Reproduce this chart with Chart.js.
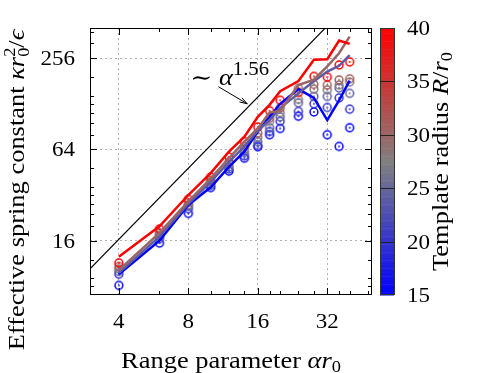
<!DOCTYPE html>
<html>
<head>
<meta charset="utf-8">
<script src="https://cdn.jsdelivr.net/npm/chart.js@4"></script>
<style>
html,body{margin:0;padding:0;background:#fff}
</style>
</head>
<body>
<canvas id="myChart" width="498" height="373"></canvas>
<script>
// range parameter alpha*r0 (x values of every series)
const rangeParam=[4,6,8,10,12,14,16,18,20,24,28,32,36,40];

// solid lines, one per template radius
const fitR40=[12.5,19.9,32,44.6,61.8,77.7,105,126,155,181,250,252,335,318];
const fitR30=[10.2,18,29,41,56,72,88,112,115,170,185,226,276,355];
const fitR24=[9.8,17,28,39,53,67,85,100,120,150,180,209,228,268];
const fitR15=[9.6,16,27.5,36,49,62,84,105,128,160,140,100,135,182];

// open circles, one per template radius
const simR40=[11.4,19.1,30,42,57,72,90,115,135,152,194,192,231,242];
const simR31=[10.8,18,28.5,40,53,67,82,103,120,162,172,170,184,187];
const simR28=[10.4,17.5,27.5,39,51,64,77,98,112,137,160,158,170,178];
const simR24=[10.0,17,27,38,49,61,72,89,105,130,143,143,163,150];
const simR20=[9.6,16.5,26,37,47.5,58,68,84,98,114,128,121,140,118];
const simR15=[8.1,15.4,24.2,35.8,46,56,66.6,80,88,106,113,80,67,89];

// ~ alpha^1.56 guide
const guideX=[3,34];
const guideY=[10.4,459];

// ticks
const xMajor=[4,8,16,32];
const xMinor=[6,10,12,14,18,20,24,28,36,40,48];
const yMajor=[16,64,256];
const yMinor=[8,9,12,20,24,28,32,36,48,80,96,112,128,144,192,320,384];
const cbTicks=[15,20,25,30,35,40];

const FONT='"Liberation Serif", "DejaVu Serif", serif';
const SX=1.15;

function rcolor(R){
	let t=(R-15)/25;
	t=Math.max(0,Math.min(1,t));
	let r,g,b;
	if(t<0.5){
		const s=t*2;
		r=g=Math.round(128*s);
		b=Math.round(255-127*s);
	}else{
		const s=(t-0.5)*2;
		r=Math.round(128+127*s);
		g=b=Math.round(128*(1-s));
	}
	return "rgb("+r+","+g+","+b+")";
}

function marker(color){
	const c=document.createElement("canvas");
	c.width=c.height=12;
	const x=c.getContext("2d");
	x.strokeStyle=color;
	x.lineWidth=1.5;
	x.beginPath();
	x.arc(6,6,3.9,0,2*Math.PI);
	x.stroke();
	x.fillStyle=color;
	x.beginPath();
	x.arc(6,6,0.9,0,2*Math.PI);
	x.fill();
	return c;
}

function pts(ys){
	return ys.map((v,i)=>({x:rangeParam[i],y:v}));
}

// draw text made of runs (italic / sub / sup), stretched a bit like the TeX font
function rich(ctx,runs,x,y,align,rot){
	ctx.save();
	ctx.translate(x,y);
	if(rot) ctx.rotate(rot);
	ctx.scale(SX,1);
	ctx.fillStyle="#000";
	ctx.textBaseline="alphabetic";
	ctx.textAlign="left";
	let cursor=0,prev=0;
	const pos=[];
	runs.forEach(r=>{
		ctx.font=(r.it?"italic ":"")+(r.sz||23)+"px "+FONT;
		const w=ctx.measureText(r.t).width;
		const start=r.stack?prev:cursor;
		pos.push(start);
		prev=start;
		cursor=Math.max(cursor,start+w);
	});
	let x0=0;
	if(align==="center") x0=-cursor/2;
	if(align==="right") x0=-cursor;
	runs.forEach((r,i)=>{
		ctx.font=(r.it?"italic ":"")+(r.sz||23)+"px "+FONT;
		ctx.fillText(r.t,x0+pos[i],r.dy||0);
	});
	ctx.restore();
}

const decor={
	id:"decor",
	afterDraw(chart){
		const {ctx,chartArea:a,scales}=chart;
		const xs=scales.x, ys=scales.y, cb=scales.cb;
		ctx.save();
		ctx.strokeStyle="#000";
		ctx.lineWidth=1;
		ctx.strokeRect(a.left+0.5,a.top+0.5,a.right-a.left-1,a.bottom-a.top-1);
		// tick marks, inside, all four sides
		ctx.beginPath();
		xMajor.concat(xMinor).forEach(v=>{
			const p=Math.round(xs.getPixelForValue(v))+0.5;
			if(p<a.left||p>a.right) return;
			const L=xMajor.includes(v)?7:4;
			ctx.moveTo(p,a.bottom);ctx.lineTo(p,a.bottom-L);
			ctx.moveTo(p,a.top);ctx.lineTo(p,a.top+L);
		});
		yMajor.concat(yMinor).forEach(v=>{
			const p=Math.round(ys.getPixelForValue(v))+0.5;
			if(p<a.top||p>a.bottom) return;
			const L=yMajor.includes(v)?7:4;
			ctx.moveTo(a.left,p);ctx.lineTo(a.left+L,p);
			ctx.moveTo(a.right,p);ctx.lineTo(a.right-L,p);
		});
		ctx.stroke();

		// tick labels
		xMajor.forEach(v=>rich(ctx,[{t:String(v),sz:20}],xs.getPixelForValue(v),328,"center"));
		yMajor.forEach(v=>rich(ctx,[{t:String(v),sz:20}],75,ys.getPixelForValue(v)+7,"right"));

		// colour bar
		const cl=cb.left+8, cw=14;
		for(let v=15;v<40;v+=0.25){
			const y1=cb.getPixelForValue(v+0.25), y2=cb.getPixelForValue(v);
			ctx.fillStyle=rcolor(v+0.125);
			ctx.fillRect(cl,y1,cw,y2-y1+0.5);
		}
		ctx.strokeStyle="#333";
		ctx.strokeRect(cl+0.5,cb.top+0.5,cw,cb.bottom-cb.top-1);
		ctx.beginPath();
		cbTicks.forEach(v=>{
			if(v===15||v===40) return;
			const p=Math.round(cb.getPixelForValue(v))+0.5;
			ctx.moveTo(cl,p);ctx.lineTo(cl+cw,p);
		});
		ctx.strokeStyle="#222";
		ctx.stroke();
		cbTicks.forEach(v=>rich(ctx,[{t:String(v),sz:20}],cl+27,cb.getPixelForValue(v)+7,"left"));

		// axis titles
		rich(ctx,[{t:"Range parameter "},{t:"αr",it:1},{t:"0",sz:16,dy:4}],(a.left+a.right)/2,368,"center");
		rich(ctx,[{t:"Effective spring constant "},{t:"κr",it:1},{t:"0",sz:16,dy:5},{t:"2",sz:16,dy:-9,stack:1},{t:"/"},{t:"ϵ",it:1}],24,190,"center",-Math.PI/2);
		rich(ctx,[{t:"Template radius "},{t:"R",it:1},{t:"/"},{t:"r",it:1},{t:"0",sz:16,dy:4}],448,(a.top+a.bottom)/2,"center",-Math.PI/2);

		// annotation with arrow
		rich(ctx,[{t:"∼ "},{t:"α",it:1},{t:"1.56",sz:18,dy:-10}],xs.getPixelForValue(8.15),ys.getPixelForValue(170),"left");
		const ax1=xs.getPixelForValue(10.8), ay1=ys.getPixelForValue(166);
		const ax2=xs.getPixelForValue(14.4), ay2=ys.getPixelForValue(128);
		const ang=Math.atan2(ay2-ay1,ax2-ax1);
		ctx.strokeStyle="#000";
		ctx.lineWidth=1;
		ctx.beginPath();
		ctx.moveTo(ax1,ay1);ctx.lineTo(ax2,ay2);
		ctx.moveTo(ax2-8*Math.cos(ang-0.3),ay2-8*Math.sin(ang-0.3));
		ctx.lineTo(ax2,ay2);
		ctx.lineTo(ax2-8*Math.cos(ang+0.3),ay2-8*Math.sin(ang+0.3));
		ctx.stroke();
		ctx.restore();
	}
};

const lineSets=[[40,fitR40],[30,fitR30],[24,fitR24],[15,fitR15]].map(([R,d])=>({
	data:pts(d),
	borderColor:rcolor(R),
	borderWidth:2.5,
	pointRadius:0,
	fill:false,
	tension:0,
	order:0,
}));
const circleSets=[[40,simR40],[31,simR31],[28,simR28],[24,simR24],[20,simR20],[15,simR15]].map(([R,d])=>({
	data:pts(d),
	showLine:false,
	pointStyle:marker(rcolor(R)),
	pointRadius:4,
	order:1,
}));
const guide={
	data:guideX.map((v,i)=>({x:v,y:guideY[i]})),
	borderColor:"#000",
	borderWidth:1.2,
	pointRadius:0,
	order:2,
};

var ctx=document.getElementById("myChart");
var myChart=new Chart(ctx,{
	type:"line",
	data:{datasets:lineSets.concat(circleSets,[guide])},
	options:{
		responsive:false,
		animation:false,
		layout:{padding:{top:28,left:0,right:0,bottom:0}},
		plugins:{legend:{display:false},tooltip:{enabled:false}},
		scales:{
			x:{
				type:"logarithmic",min:3,max:50,
				afterBuildTicks:s=>{s.ticks=xMajor.map(v=>({value:v}));},
				ticks:{display:false,autoSkip:false},
				grid:{drawTicks:false,color:"#b0b0b0",lineWidth:1},
				border:{display:false,dash:[2,3]},
				afterFit:s=>{s.height=78;}
			},
			y:{
				type:"logarithmic",min:7,max:405,position:"left",
				afterBuildTicks:s=>{s.ticks=yMajor.map(v=>({value:v}));},
				ticks:{display:false,autoSkip:false},
				grid:{drawTicks:false,color:"#b0b0b0",lineWidth:1},
				border:{display:false,dash:[2,3]},
				afterFit:s=>{s.width=90;}
			},
			cb:{
				type:"linear",axis:"y",position:"right",min:15,max:40,display:true,
				ticks:{display:false},
				grid:{display:false},
				border:{display:false},
				afterFit:s=>{s.width=126;}
			}
		}
	},
	plugins:[decor]
});
</script>
</body>
</html>
